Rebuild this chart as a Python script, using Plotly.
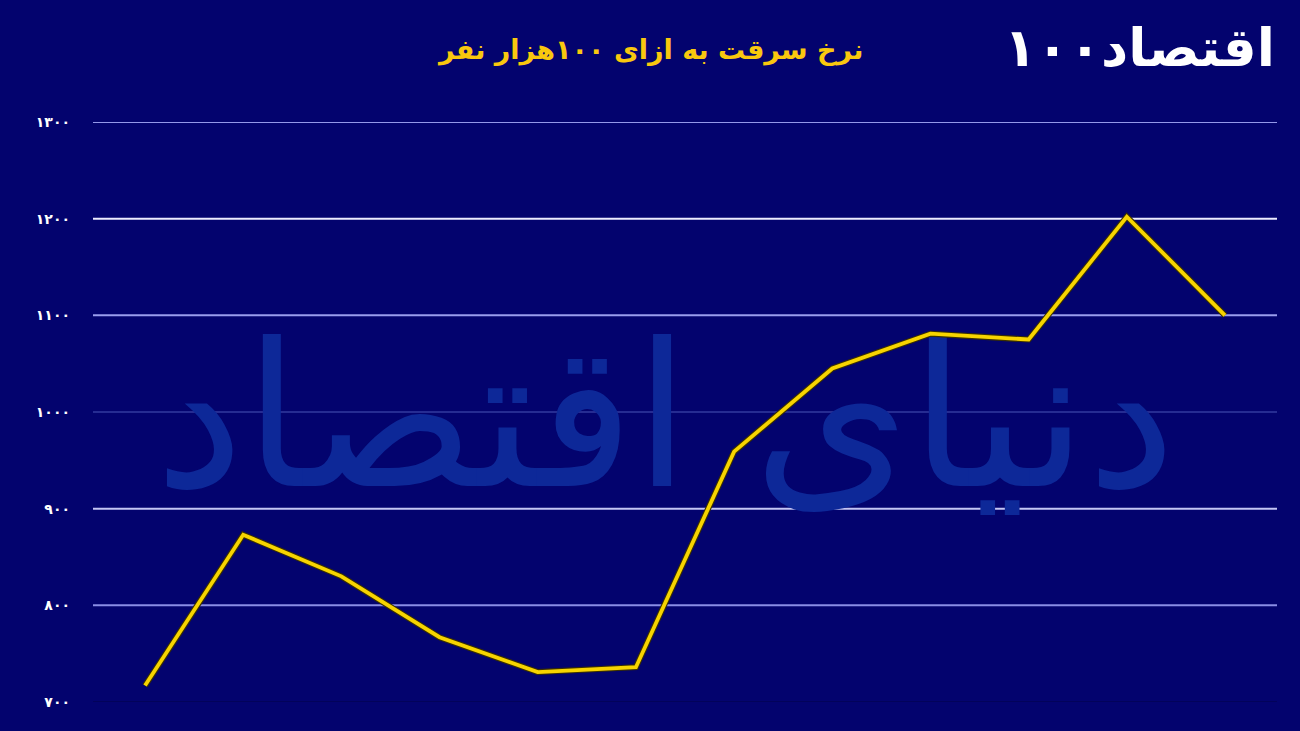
import plotly.graph_objects as go

# ---- data ----
periods = list(range(12))
theft_rate = [717, 873, 830, 767, 731, 736, 959, 1045, 1081, 1075, 1202, 1100]
y_ticks = [700, 800, 900, 1000, 1100, 1200, 1300]
y_tick_labels = ["۷۰۰", "۸۰۰", "۹۰۰", "۱۰۰۰", "۱۱۰۰", "۱۲۰۰", "۱۳۰۰"]
title_text = "نرخ سرقت به ازای ۱۰۰هزار نفر"
watermark_text = "دنیای اقتصاد"
logo_text = "اقتصاد۱۰۰"

# ---- styles ----
BG = "#03036e"
grid_colors = ["#02025a", "#8a8ee6", "#c4c6f4", "#262c92", "#9a9eee", "#ececff", "#9498ea"]
LINE = "#f7d400"

fig = go.Figure()

# watermark (drawn first so the data line sits above it)
fig.add_trace(go.Scatter(
    x=[5.3], y=[975], mode="text", text=[watermark_text],
    textfont=dict(size=200, color="#0d2898", family="DejaVu Sans"),
    hoverinfo="skip", showlegend=False, cliponaxis=False,
))

# subtle dark edge under the line
fig.add_trace(go.Scatter(
    x=periods, y=theft_rate, mode="lines",
    line=dict(color="#3a3000", width=6),
    hoverinfo="skip", showlegend=False,
))
fig.add_trace(go.Scatter(
    x=periods, y=theft_rate, mode="lines",
    line=dict(color=LINE, width=3.8),
    showlegend=False,
))

shapes = []
for v, c in zip(y_ticks, grid_colors):
    shapes.append(dict(type="line", xref="paper", yref="y", x0=0, x1=1, y0=v, y1=v,
                       line=dict(color=c, width=2), layer="below"))

fig.update_layout(
    width=1300, height=731,
    paper_bgcolor=BG, plot_bgcolor=BG,
    margin=dict(l=93, r=23, t=122, b=29),
    shapes=shapes,
    xaxis=dict(range=[-0.53, 11.53], showgrid=False, zeroline=False,
               showticklabels=False, showline=False, fixedrange=True),
    yaxis=dict(range=[700, 1300], tickvals=y_ticks,
               ticktext=["<b>" + t + "</b>" for t in y_tick_labels],
               showgrid=False, zeroline=False, showline=False,
               tickfont=dict(color="white", size=14, family="DejaVu Sans"),
               ticklabelstandoff=22, fixedrange=True),
    annotations=[
        dict(text="<b>" + title_text + "</b>", xref="paper", yref="paper",
             x=(650 - 93) / (1300 - 93 - 23), y=1, yshift=(122 - 50),
             xanchor="center", yanchor="middle", showarrow=False,
             font=dict(color="#f9c80e", size=27, family="DejaVu Sans")),
        dict(text="<b>" + logo_text + "</b>", xref="paper", yref="paper",
             x=(1139 - 93) / (1300 - 93 - 23), y=1, yshift=(122 - 47),
             xanchor="center", yanchor="middle", showarrow=False,
             font=dict(color="white", size=53, family="DejaVu Sans")),
    ],
)

fig.write_html(
    "out.html",
    config={"displayModeBar": False},
    post_script=("document.body.style.margin='0';"
                 "document.body.style.overflow='hidden';"
                 "document.body.style.background='#03036e';"),
)
